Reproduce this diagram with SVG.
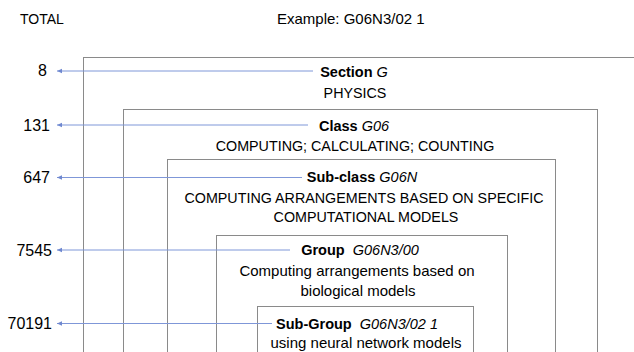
<svg xmlns="http://www.w3.org/2000/svg" width="634" height="352" viewBox="0 0 634 352">
<style>
text{font-family:"Liberation Sans",Arial,sans-serif;fill:#000}
.box{fill:none;stroke:#8a8a8a;stroke-width:1}
.arr{stroke:#7f97d8;stroke-width:1;fill:none;marker-end:url(#ah)}
.num{font-size:16px;text-anchor:end}
.c{text-anchor:middle}
.h{font-size:14.5px}
.b{font-weight:bold}
.i{font-style:italic}
.cap{font-size:14.3px}
.low{font-size:15px}
</style>
<defs>
<marker id="ah" markerWidth="6" markerHeight="6" refX="5" refY="3" orient="auto" markerUnits="userSpaceOnUse">
<path d="M0,0.8 L5,3 L0,5.2 Z" fill="#6f88d0"/>
</marker>
</defs>
<text x="20" y="24" font-size="14">TOTAL</text>
<text x="277" y="24" font-size="15">Example: G06N3/02 1</text>
<g id="section">
<rect class="box" x="83.5" y="57.5" width="600" height="320"/>
<text class="c h" x="354" y="77"><tspan class="b">Section </tspan><tspan class="i">G</tspan></text>
<text class="c cap" x="355" y="98">PHYSICS</text>
</g>
<g id="class">
<rect class="box" x="123.5" y="109.5" width="474" height="270"/>
<text class="c h" x="354" y="131"><tspan class="b">Class </tspan><tspan class="i">G06</tspan></text>
<text class="c cap" x="355" y="151">COMPUTING; CALCULATING; COUNTING</text>
</g>
<g id="subclass">
<rect class="box" x="167.5" y="159.5" width="388" height="220"/>
<text class="c h" x="362" y="182"><tspan class="b">Sub-class </tspan><tspan class="i">G06N</tspan></text>
<text class="c cap" x="364" y="203">COMPUTING ARRANGEMENTS BASED ON SPECIFIC</text>
<text class="c cap" x="366" y="222">COMPUTATIONAL MODELS</text>
</g>
<g id="group">
<rect class="box" x="216.5" y="235.5" width="291" height="150"/>
<text class="c h" x="360" y="255" xml:space="preserve"><tspan class="b">Group  </tspan><tspan class="i">G06N3/00</tspan></text>
<text class="c low" x="357" y="276">Computing arrangements based on</text>
<text class="c low" x="358" y="296">biological models</text>
</g>
<g id="subgroup">
<rect class="box" x="257.5" y="306.5" width="216" height="80"/>
<text class="c h" x="357" y="329" xml:space="preserve"><tspan class="b">Sub-Group  </tspan><tspan class="i">G06N3/02 1</tspan></text>
<text class="c low" x="366" y="348">using neural network models</text>
</g>
<g id="totals">
<text class="num" x="47" y="76">8</text>
<text class="num" x="50" y="131">131</text>
<text class="num" x="50" y="183">647</text>
<text class="num" x="52" y="256">7545</text>
<text class="num" x="52" y="329">70191</text>
</g>
<g id="connectors">
<line class="arr" x1="313" y1="71" x2="57" y2="71"/>
<line class="arr" x1="308" y1="125" x2="57" y2="125"/>
<line class="arr" x1="302" y1="177.5" x2="57" y2="177.5"/>
<line class="arr" x1="290" y1="250" x2="57" y2="250"/>
<line class="arr" x1="272" y1="323.5" x2="57" y2="323.5"/>
</g>
</svg>
